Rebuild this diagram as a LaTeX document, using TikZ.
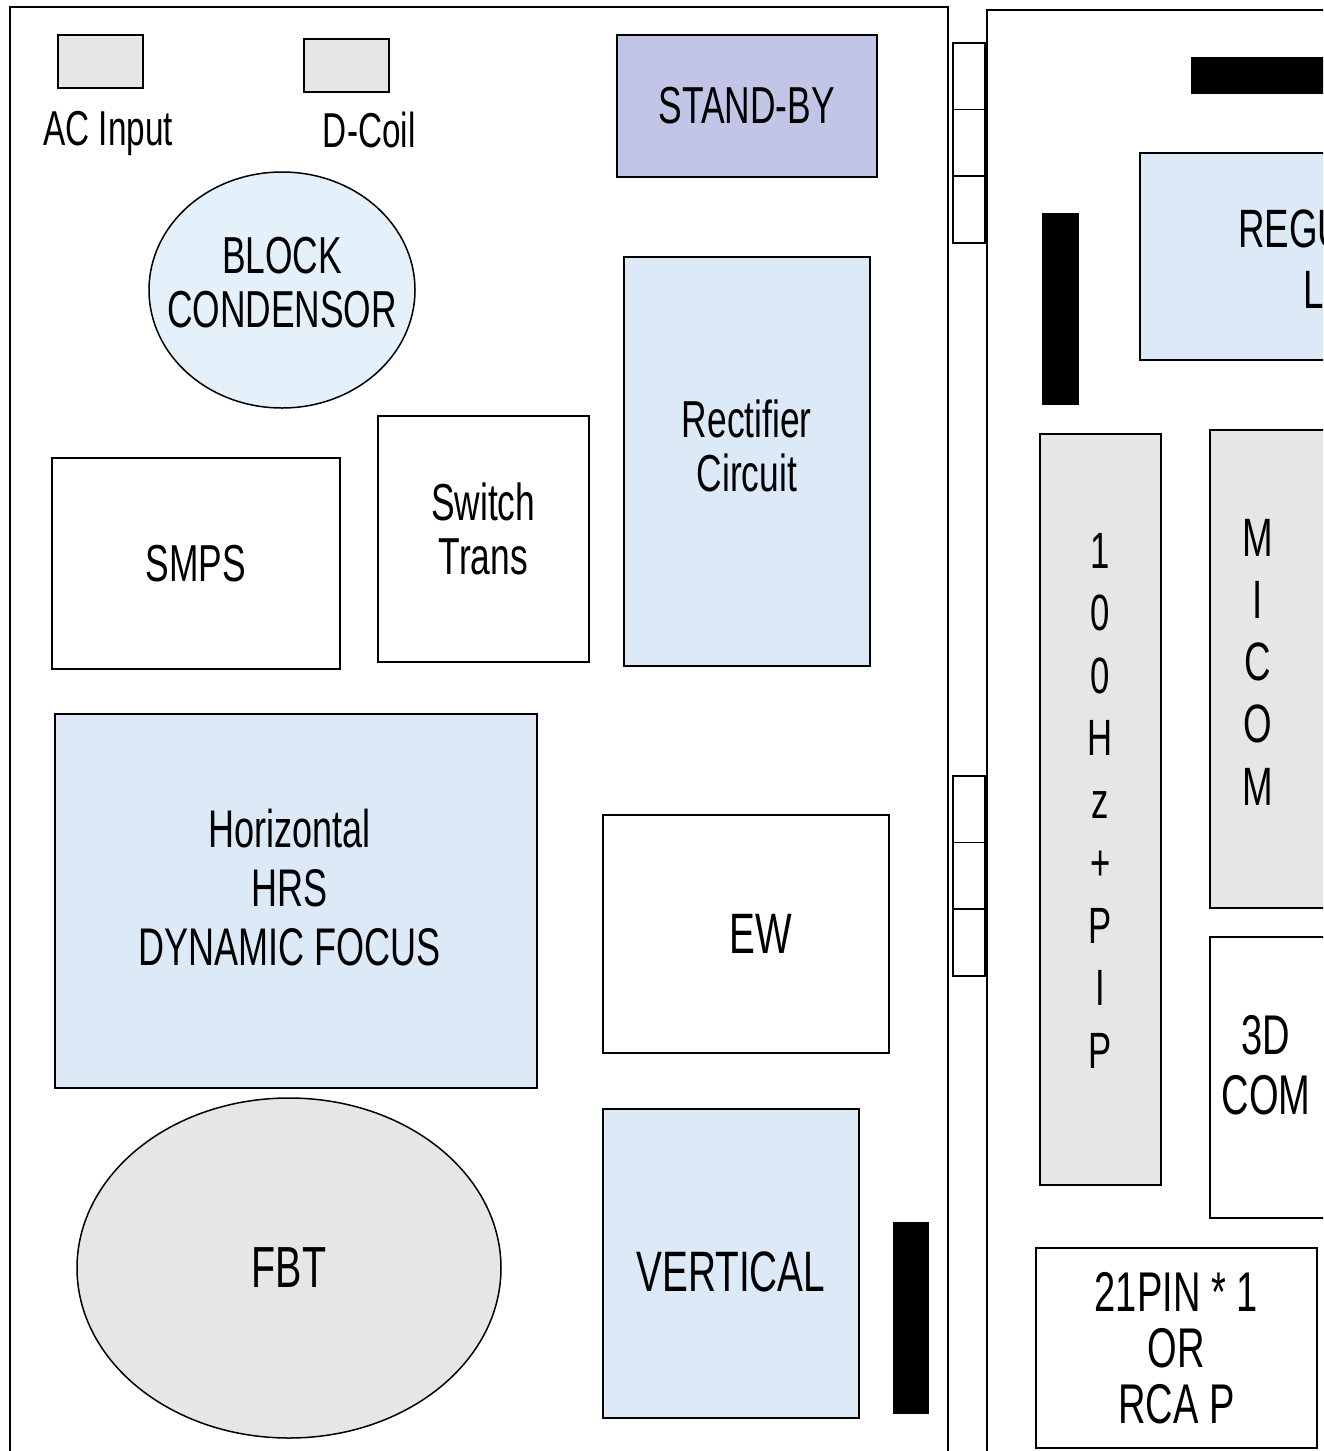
\documentclass[tikz,border=0pt]{standalone}
\usepackage{fontspec}
\setmainfont[FakeStretch=0.68]{Liberation Sans}
\usepackage{tikz}
\usetikzlibrary{shapes.geometric,positioning}
\definecolor{partblue}{HTML}{DCE9F6}
\definecolor{capblue}{HTML}{E4F1FB}
\definecolor{partgray}{HTML}{E6E6E6}
\definecolor{standbyblue}{HTML}{C1C5E6}
\tikzset
{
    board/.style     = {draw=black, line width=1.5pt},
    part/.style      = {rectangle, draw=black, line width=1.5pt, align=center, anchor=north west, inner sep=0pt, font=\fontsize{52}{56}\selectfont},
    bluepart/.style  = {part, fill=partblue},
    graypart/.style  = {part, fill=partgray},
    roundpart/.style = {ellipse, draw=black, line width=1.5pt, inner sep=0pt},
    parttext/.style  = {inner sep=0pt, align=center, font=\fontsize{52}{54}\selectfont},
    socket/.style    = {rectangle, draw=black, line width=1.5pt, minimum width=32pt, minimum height=66.7pt, anchor=north west, inner sep=0pt},
    heatsink/.style  = {rectangle, fill=black, anchor=north west, inner sep=0pt},
    caption/.style   = {inner sep=0pt, anchor=north, font=\fontsize{49}{52}\selectfont},
    letter/.style    = {inner sep=0pt, anchor=base, font=\fontsize{51}{52}\selectfont}
}

\begin{document}
\begin{tikzpicture}[x=1pt, y=-1pt]
    \useasboundingbox (0,0) rectangle (1323,1451);
    \clip (0,0) rectangle (1323,1451);

    % boards
    \draw [board] (10,7) rectangle (948,1480);
    \draw [board] (987,10) rectangle (1360,1480);

    % connector strips between the boards
    \foreach \y [count=\i] in {42,108.7,175.3}
        \node [socket] (socketa\i) at (952,\y) {};
    \foreach \y [count=\i] in {775,841.7,908.3}
        \node [socket] (socketb\i) at (952,\y) {};

    % power board
    \node [graypart, minimum width=85pt, minimum height=53pt] (acin) at (57,34) {};
    \node [caption, below=23pt of acin, xshift=8pt] (acinlabel) {AC Input};
    \node [graypart, minimum width=85pt, minimum height=53pt] (dcoil) at (303,38) {};
    \node [caption, below=19pt of dcoil, xshift=23pt] (dcoillabel) {D-Coil};

    \node [part, fill=standbyblue, minimum width=260pt, minimum height=142pt] (standby) at (616,34) {STAND-BY};
    \node [roundpart, fill=capblue, minimum width=266pt, minimum height=236pt] (condensor) at (282,290) {};
    \node [parttext, yshift=7pt] (condensortext) at (condensor.center) {BLOCK\\CONDENSOR};

    \node [bluepart, minimum width=246pt, minimum height=409pt] (rectifier) at (623,256) {};
    \node [parttext, yshift=15pt] (rectifiertext) at (rectifier.center) {Rectifier\\Circuit};

    \node [part, minimum width=288pt, minimum height=211pt] (smps) at (51,457) {SMPS};
    \node [part, minimum width=211pt, minimum height=246pt] (switchtrans) at (377,415) {};
    \node [parttext, yshift=10pt] (switchtranstext) at (switchtrans.center) {Switch\\Trans};

    \node [bluepart, minimum width=482pt, minimum height=374pt] (horizontal) at (54,713) {};
    \node [parttext, xshift=-6pt, yshift=13pt, font=\fontsize{53}{59}\selectfont] (horizontaltext) at (horizontal.center) {Horizontal\\HRS\\DYNAMIC FOCUS};

    \node [part, minimum width=286pt, minimum height=238pt] (ew) at (602,814) {};
    \node [parttext, xshift=15pt, font=\fontsize{57}{60}\selectfont] (ewtext) at (ew.center) {EW};

    \node [roundpart, fill=partgray, minimum width=424pt, minimum height=340pt] (fbt) at (289,1268) {};
    \node [parttext, font=\fontsize{58}{60}\selectfont] (fbttext) at (fbt.center) {FBT};
    \node [bluepart, minimum width=256pt, minimum height=309pt] (vertical) at (602,1108) {};
    \node [parttext, yshift=-9pt, font=\fontsize{57}{60}\selectfont] (verticaltext) at (vertical.center) {VERTICAL};
    \node [heatsink, minimum width=36pt, minimum height=192pt] (heatsinkv) at (893,1222) {};

    % signal board
    \node [heatsink, minimum width=160pt, minimum height=37pt] (heatsinktop) at (1191,57) {};
    \node [heatsink, minimum width=37pt, minimum height=192pt] (heatsinkleft) at (1042,213) {};

    \node [bluepart, minimum width=220pt, minimum height=207pt] (regulator) at (1139,152) {};
    \node [inner sep=0pt, anchor=base west, font=\fontsize{54}{56}\selectfont] (regulatora) at (1238,247) {REGU};
    \node [inner sep=0pt, anchor=base west, font=\fontsize{54}{56}\selectfont] (regulatorb) at (1303,308) {L};

    \node [graypart, minimum width=121pt, minimum height=751pt] (pip) at (1039,433) {};
    \foreach \ch [count=\k from 0] in {1,0,0,H,z,+,P,I,P}
        \node [letter] (pip\k) at ([yshift=-135pt-62.5pt*\k]pip.north) {\ch};

    \node [graypart, minimum width=150pt, minimum height=478pt] (micom) at (1209,429) {};
    \foreach \ch [count=\k from 0] in {M,I,C,O,M}
        \node [letter, font=\fontsize{54}{56}\selectfont] (micom\k) at ([xshift=49pt, yshift=-127pt-62.3pt*\k]micom.north west) {\ch};

    \node [part, minimum width=150pt, minimum height=281pt] (threed) at (1209,936) {};
    \node [parttext, font=\fontsize{56}{60}\selectfont] (threedtext) at (1266,1065) {3D\\COM};

    \node [part, minimum width=281pt, minimum height=200pt, font=\fontsize{56}{56}\selectfont] (scart) at (1035,1247) {21PIN * 1\\OR\\RCA P};
\end{tikzpicture}
\end{document}
